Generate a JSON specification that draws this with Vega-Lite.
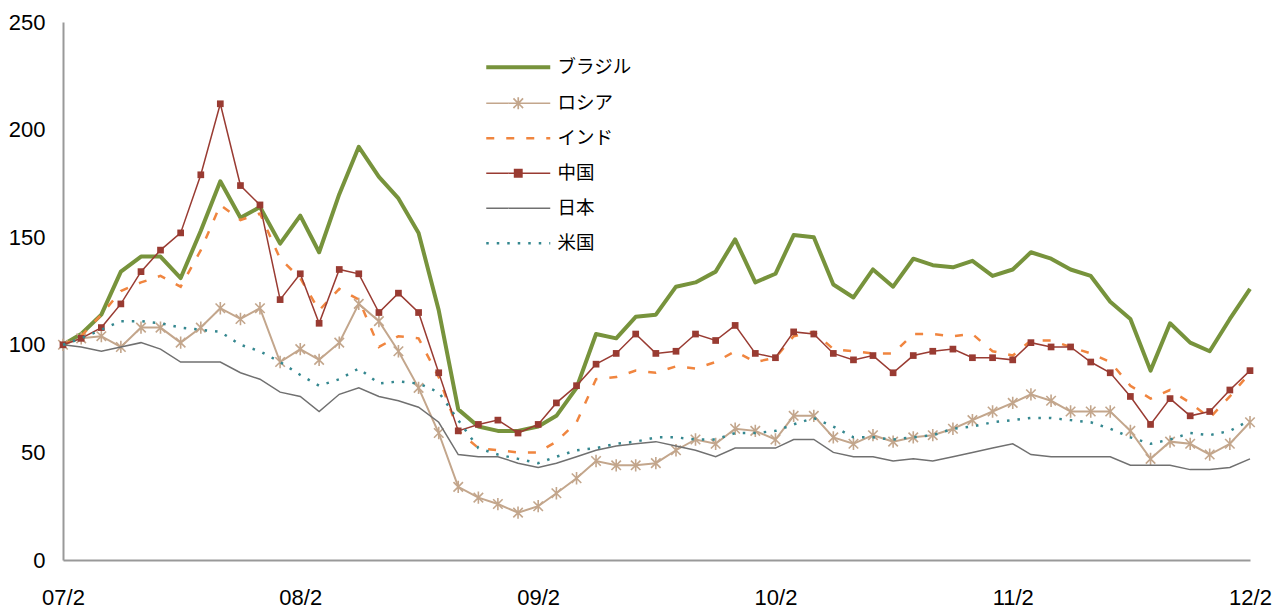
{
  "$schema": "https://vega.github.io/schema/vega-lite/v6.json",
  "width": 1187,
  "height": 538,
  "autosize": "none",
  "padding": {"left": 63, "top": 22, "right": 32, "bottom": 50},
  "background": "white",
  "config": {
    "view": {"stroke": null},
    "axis": {"grid": false, "ticks": false, "domainColor": "#999999", "domainWidth": 2, "labelColor": "#000000", "labelFont": "Liberation Sans", "labelFontSize": 22, "title": null},
    "axisY": {"tickCount": 5, "labelPadding": 18},
    "axisX": {"labelPadding": 27, "labelFlush": false}
  },
  "data": {"values": [
    {"d":"2007-02-01","b":100,"r":100,"i":100,"c":100,"j":100,"u":100},
    {"d":"2007-03-01","b":105,"r":103,"i":104,"c":103,"j":99,"u":103},
    {"d":"2007-04-01","b":114,"r":104,"i":114,"c":108,"j":97,"u":107},
    {"d":"2007-05-01","b":134,"r":99,"i":125,"c":119,"j":99,"u":111},
    {"d":"2007-06-01","b":141,"r":108,"i":129,"c":134,"j":101,"u":111},
    {"d":"2007-07-01","b":141,"r":108,"i":132,"c":144,"j":98,"u":110},
    {"d":"2007-08-01","b":131,"r":101,"i":127,"c":152,"j":92,"u":108},
    {"d":"2007-09-01","b":153,"r":108,"i":144,"c":179,"j":92,"u":107},
    {"d":"2007-10-01","b":176,"r":117,"i":165,"c":212,"j":92,"u":106},
    {"d":"2007-11-01","b":159,"r":112,"i":158,"c":174,"j":87,"u":100},
    {"d":"2007-12-01","b":164,"r":117,"i":161,"c":165,"j":84,"u":97},
    {"d":"2008-01-01","b":147,"r":92,"i":140,"c":121,"j":78,"u":92},
    {"d":"2008-02-01","b":160,"r":98,"i":131,"c":133,"j":76,"u":86},
    {"d":"2008-03-01","b":143,"r":93,"i":116,"c":110,"j":69,"u":81},
    {"d":"2008-04-01","b":170,"r":101,"i":126,"c":135,"j":77,"u":84},
    {"d":"2008-05-01","b":192,"r":119,"i":121,"c":133,"j":80,"u":89},
    {"d":"2008-06-01","b":178,"r":111,"i":99,"c":115,"j":76,"u":82},
    {"d":"2008-07-01","b":168,"r":97,"i":104,"c":124,"j":74,"u":83},
    {"d":"2008-08-01","b":152,"r":80,"i":103,"c":115,"j":71,"u":82},
    {"d":"2008-09-01","b":116,"r":59,"i":85,"c":87,"j":64,"u":78},
    {"d":"2008-10-01","b":70,"r":34,"i":60,"c":60,"j":49,"u":65},
    {"d":"2008-11-01","b":62,"r":29,"i":52,"c":63,"j":48,"u":52},
    {"d":"2008-12-01","b":60,"r":26,"i":51,"c":65,"j":48,"u":49},
    {"d":"2009-01-01","b":60,"r":22,"i":50,"c":59,"j":45,"u":47},
    {"d":"2009-02-01","b":62,"r":25,"i":50,"c":63,"j":43,"u":45},
    {"d":"2009-03-01","b":67,"r":31,"i":55,"c":73,"j":45,"u":48},
    {"d":"2009-04-01","b":80,"r":38,"i":64,"c":81,"j":48,"u":51},
    {"d":"2009-05-01","b":105,"r":46,"i":84,"c":91,"j":51,"u":52},
    {"d":"2009-06-01","b":103,"r":44,"i":85,"c":96,"j":53,"u":54},
    {"d":"2009-07-01","b":113,"r":44,"i":88,"c":105,"j":54,"u":55},
    {"d":"2009-08-01","b":114,"r":45,"i":87,"c":96,"j":55,"u":57},
    {"d":"2009-09-01","b":127,"r":51,"i":90,"c":97,"j":53,"u":57},
    {"d":"2009-10-01","b":129,"r":56,"i":89,"c":105,"j":51,"u":56},
    {"d":"2009-11-01","b":134,"r":54,"i":92,"c":102,"j":48,"u":56},
    {"d":"2009-12-01","b":149,"r":61,"i":97,"c":109,"j":52,"u":59},
    {"d":"2010-01-01","b":129,"r":60,"i":92,"c":96,"j":52,"u":59},
    {"d":"2010-02-01","b":133,"r":56,"i":94,"c":94,"j":52,"u":60},
    {"d":"2010-03-01","b":151,"r":67,"i":104,"c":106,"j":56,"u":63},
    {"d":"2010-04-01","b":150,"r":67,"i":106,"c":105,"j":56,"u":66},
    {"d":"2010-05-01","b":128,"r":57,"i":98,"c":96,"j":50,"u":62},
    {"d":"2010-06-01","b":122,"r":54,"i":97,"c":93,"j":48,"u":57},
    {"d":"2010-07-01","b":135,"r":58,"i":96,"c":95,"j":48,"u":57},
    {"d":"2010-08-01","b":127,"r":55,"i":96,"c":87,"j":46,"u":56},
    {"d":"2010-09-01","b":140,"r":57,"i":105,"c":95,"j":47,"u":57},
    {"d":"2010-10-01","b":137,"r":58,"i":105,"c":97,"j":46,"u":58},
    {"d":"2010-11-01","b":136,"r":61,"i":104,"c":98,"j":48,"u":61},
    {"d":"2010-12-01","b":139,"r":65,"i":105,"c":94,"j":50,"u":62},
    {"d":"2011-01-01","b":132,"r":69,"i":97,"c":94,"j":52,"u":64},
    {"d":"2011-02-01","b":135,"r":73,"i":95,"c":93,"j":54,"u":65},
    {"d":"2011-03-01","b":143,"r":77,"i":102,"c":101,"j":49,"u":66},
    {"d":"2011-04-01","b":140,"r":74,"i":102,"c":99,"j":48,"u":66},
    {"d":"2011-05-01","b":135,"r":69,"i":99,"c":99,"j":48,"u":65},
    {"d":"2011-06-01","b":132,"r":69,"i":96,"c":92,"j":48,"u":64},
    {"d":"2011-07-01","b":120,"r":69,"i":92,"c":87,"j":48,"u":61},
    {"d":"2011-08-01","b":112,"r":60,"i":81,"c":76,"j":44,"u":57},
    {"d":"2011-09-01","b":88,"r":47,"i":75,"c":63,"j":44,"u":54},
    {"d":"2011-10-01","b":110,"r":55,"i":79,"c":75,"j":44,"u":56},
    {"d":"2011-11-01","b":101,"r":54,"i":73,"c":67,"j":42,"u":59},
    {"d":"2011-12-01","b":97,"r":49,"i":66,"c":69,"j":42,"u":58},
    {"d":"2012-01-01","b":112,"r":54,"i":76,"c":79,"j":43,"u":60},
    {"d":"2012-02-01","b":126,"r":64,"i":87,"c":88,"j":47,"u":65}
  ]},
  "encoding": {
    "x": {
      "field": "d", "type": "temporal",
      "scale": {"type": "utc", "nice": false, "domain": [{"year": 2007, "month": 2, "date": 1, "utc": true}, {"year": 2012, "month": 2, "date": 1, "utc": true}]},
      "axis": {
        "labelExpr": "utcFormat(datum.value, '%y') + '/' + (utcmonth(datum.value) + 1)",
        "values": [
          {"year": 2007, "month": 2, "date": 1, "utc": true},
          {"year": 2008, "month": 2, "date": 1, "utc": true},
          {"year": 2009, "month": 2, "date": 1, "utc": true},
          {"year": 2010, "month": 2, "date": 1, "utc": true},
          {"year": 2011, "month": 2, "date": 1, "utc": true},
          {"year": 2012, "month": 2, "date": 1, "utc": true}
        ]
      }
    }
  },
  "layer": [
    {
      "mark": {"type": "line", "strokeWidth": 4, "strokeJoin": "round"},
      "encoding": {
        "y": {"field": "b", "type": "quantitative", "scale": {"domain": [0, 250], "nice": false}},
        "color": {
          "datum": "ブラジル", "type": "nominal",
          "scale": {"domain": ["ブラジル", "ロシア", "インド", "中国", "日本", "米国"], "range": ["#77933C", "#C3A68C", "#F0853F", "#993B32", "#707070", "#34878F"]},
          "legend": {
            "title": null, "orient": "none", "legendX": 446, "legendY": 36,
            "symbolSize": 256, "symbolType": "M-4,0H4", "symbolStrokeWidth": 2,
            "labelFont": "Noto Sans CJK JP", "labelFontSize": 18.5, "labelColor": "#000000",
            "labelOffset": 30, "rowPadding": 16, "padding": 0,
            "encode": {"symbols": {"update": {
              "shape": {"signal": "datum.value === '中国' ? 'M-4,0H4M-0.45,-0.45H0.45V0.45H-0.45Z' : datum.value === 'ロシア' ? 'M-4,0H4M-0.6,-0.6L0.6,0.6M0.6,-0.6L-0.6,0.6M0,-0.75V0.75' : 'M-4,0H4'"},
              "strokeWidth": {"signal": "datum.value === 'ブラジル' ? 4 : (datum.value === 'インド' || datum.value === '米国') ? 2.5 : 1.7"},
              "strokeDash": {"signal": "datum.value === 'インド' ? [8, 12] : datum.value === '米国' ? [2.5, 8] : [1, 0]"},
              "fill": {"signal": "datum.value === '中国' ? '#993B32' : 'transparent'"}
            }}}
          }
        }
      }
    },
    {
      "mark": {"type": "line", "strokeWidth": 2},
      "encoding": {
        "y": {"field": "r", "type": "quantitative"},
        "color": {"datum": "ロシア", "type": "nominal"}
      }
    },
    {
      "mark": {"type": "point", "shape": "M-1,-1L1,1M1,-1L-1,1M0,-1.3V1.3", "size": 90, "filled": false, "stroke": "#C3A68C", "strokeWidth": 1.6, "opacity": 1},
      "encoding": {"y": {"field": "r", "type": "quantitative"}}
    },
    {
      "mark": {"type": "line", "strokeWidth": 2.5, "strokeDash": [8, 12]},
      "encoding": {
        "y": {"field": "i", "type": "quantitative"},
        "color": {"datum": "インド", "type": "nominal"}
      }
    },
    {
      "mark": {"type": "line", "strokeWidth": 1.5},
      "encoding": {
        "y": {"field": "c", "type": "quantitative"},
        "color": {"datum": "中国", "type": "nominal"}
      }
    },
    {
      "mark": {"type": "square", "size": 45, "color": "#993B32", "opacity": 1},
      "encoding": {"y": {"field": "c", "type": "quantitative"}}
    },
    {
      "mark": {"type": "line", "strokeWidth": 1.5},
      "encoding": {
        "y": {"field": "j", "type": "quantitative"},
        "color": {"datum": "日本", "type": "nominal"}
      }
    },
    {
      "mark": {"type": "line", "strokeWidth": 2.5, "strokeDash": [2.5, 8]},
      "encoding": {
        "y": {"field": "u", "type": "quantitative"},
        "color": {"datum": "米国", "type": "nominal"}
      }
    }
  ]
}
